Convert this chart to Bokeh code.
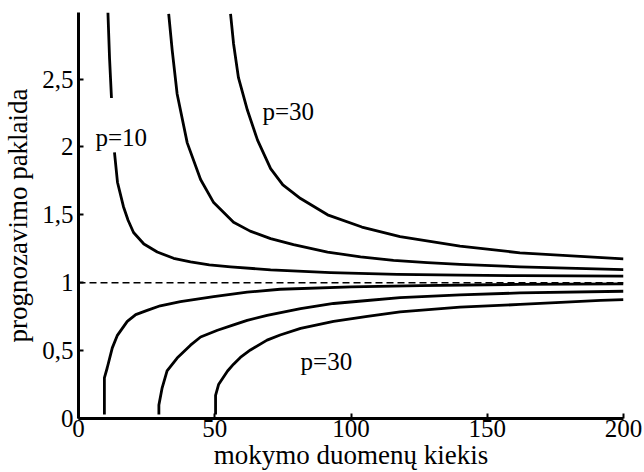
from bokeh.plotting import figure
from bokeh.models import FixedTicker, Range1d
from bokeh.embed import file_html
from bokeh.resources import INLINE
from bokeh.core.properties import value

nan = float("nan")

# Prediction error vs. training-set size for p = 10, 20, 30 features.
# Upper curves: test error; lower curves: training error.
test_p10_x = [10.8, 11.4, 12.1, nan, 13.2, 14.3, 16.5, 18.2, 20.2, 24.0, 28.9, 34.9, 41.1, 48.0, 55.8, 70.5, 92.5, 117.0, 140.0, 162.0, 200.0]
test_p10_y = [2.99, 2.65, 2.36, nan, 1.96, 1.74, 1.56, 1.46, 1.37, 1.285, 1.226, 1.18, 1.153, 1.132, 1.117, 1.095, 1.075, 1.062, 1.056, 1.052, 1.048]

test_p20_x = [33.1, 34.4, 36.2, 39.9, 44.8, 49.6, 56.9, 63.0, 70.5, 78.9, 91.4, 103.5, 115.6, 128.0, 140.0, 162.0, 200.0]
test_p20_y = [2.98, 2.71, 2.39, 2.03, 1.76, 1.59, 1.445, 1.38, 1.325, 1.28, 1.226, 1.19, 1.165, 1.148, 1.135, 1.117, 1.097]

test_p30_x = [55.8, 56.9, 58.7, 62.0, 65.7, 70.5, 75.0, 81.5, 91.4, 104.0, 118.0, 140.0, 162.0, 200.0]
test_p30_y = [2.98, 2.76, 2.51, 2.27, 2.05, 1.84, 1.72, 1.62, 1.50, 1.41, 1.34, 1.27, 1.22, 1.175]

train_p10_x = [9.5, 9.5, 10.5, 12.4, 14.2, 17.9, 21.0, 25.2, 30.0, 37.4, 49.6, 61.9, 74.0, 100.0, 125.5, 162.0, 200.0]
train_p10_y = [0.03, 0.30, 0.37, 0.52, 0.61, 0.715, 0.765, 0.796, 0.83, 0.861, 0.898, 0.93, 0.952, 0.97, 0.978, 0.988, 0.992]

train_p20_x = [29.5, 29.5, 30.7, 32.5, 36.2, 41.1, 44.8, 51.0, 56.9, 61.9, 69.2, 81.5, 93.6, 106.0, 118.0, 140.0, 162.0, 200.0]
train_p20_y = [0.03, 0.10, 0.226, 0.35, 0.445, 0.54, 0.60, 0.65, 0.69, 0.723, 0.759, 0.81, 0.847, 0.869, 0.89, 0.91, 0.925, 0.937]

train_p30_x = [50.3, 50.3, 51.4, 54.7, 56.9, 59.4, 63.1, 69.2, 74.0, 81.5, 93.6, 106.0, 118.0, 140.0, 162.0, 177.0, 191.6, 200.0]
train_p30_y = [0.03, 0.17, 0.25, 0.35, 0.40, 0.45, 0.505, 0.577, 0.615, 0.664, 0.715, 0.752, 0.785, 0.82, 0.84, 0.855, 0.87, 0.876]

ref_level = 1.0

x_ticks = [0, 50, 100, 150, 200]
y_ticks = [0, 0.5, 1, 1.5, 2, 2.5]
y_tick_labels = ["0", "0,5", "1", "1,5", "2", "2,5"]

curve_labels = ["p=10", "p=30", "p=30"]
curve_label_x = [6.2, 67.5, 81.5]
curve_label_y = [2.07, 2.26, 0.423]

FONT = "'Liberation Serif', serif"

p = figure(width=644, height=472, output_backend="svg", toolbar_location=None,
           x_range=Range1d(0, 200), y_range=Range1d(0, 2.99),
           min_border_left=78, min_border_right=21, min_border_top=12, min_border_bottom=51,
           background_fill_color="white", border_fill_color="white")
p.outline_line_color = None
p.grid.visible = False

for xs, ys in [(test_p10_x, test_p10_y), (test_p20_x, test_p20_y), (test_p30_x, test_p30_y),
               (train_p10_x, train_p10_y), (train_p20_x, train_p20_y), (train_p30_x, train_p30_y)]:
    p.line(xs, ys, line_color="black", line_width=2.8, line_join="round")

p.line([x_ticks[0], x_ticks[-1]], [ref_level, ref_level], line_color="black",
       line_width=1.5, line_dash="7 4")

p.text(x=curve_label_x, y=curve_label_y, text=curve_labels,
       text_font=value(FONT), text_font_size="25px", text_color="black",
       text_baseline="alphabetic", text_align="left")

p.xaxis.ticker = FixedTicker(ticks=x_ticks)
p.yaxis.ticker = FixedTicker(ticks=y_ticks)
p.yaxis.major_label_overrides = {t: s for t, s in zip(y_ticks, y_tick_labels)}

for ax in (p.xaxis, p.yaxis):
    ax.axis_line_width = 3
    ax.axis_line_color = "black"
    ax.major_tick_in = 5
    ax.major_tick_out = 0
    ax.major_tick_line_width = 2
    ax.minor_tick_line_color = None
    ax.major_label_text_font = FONT
    ax.major_label_text_font_size = "25px"
    ax.major_label_text_color = "black"
    ax.axis_label_text_font = FONT
    ax.axis_label_text_font_size = "27px"
    ax.axis_label_text_font_style = "normal"
    ax.axis_label_text_color = "black"

p.xaxis.axis_label = "mokymo duomenų kiekis"
p.yaxis.axis_label = "prognozavimo paklaida"
p.xaxis.major_label_standoff = 1
p.xaxis.axis_label_standoff = 0
p.yaxis.major_label_standoff = 5
p.yaxis.axis_label_standoff = 6

open("out.html", "w").write(file_html(p, INLINE))
